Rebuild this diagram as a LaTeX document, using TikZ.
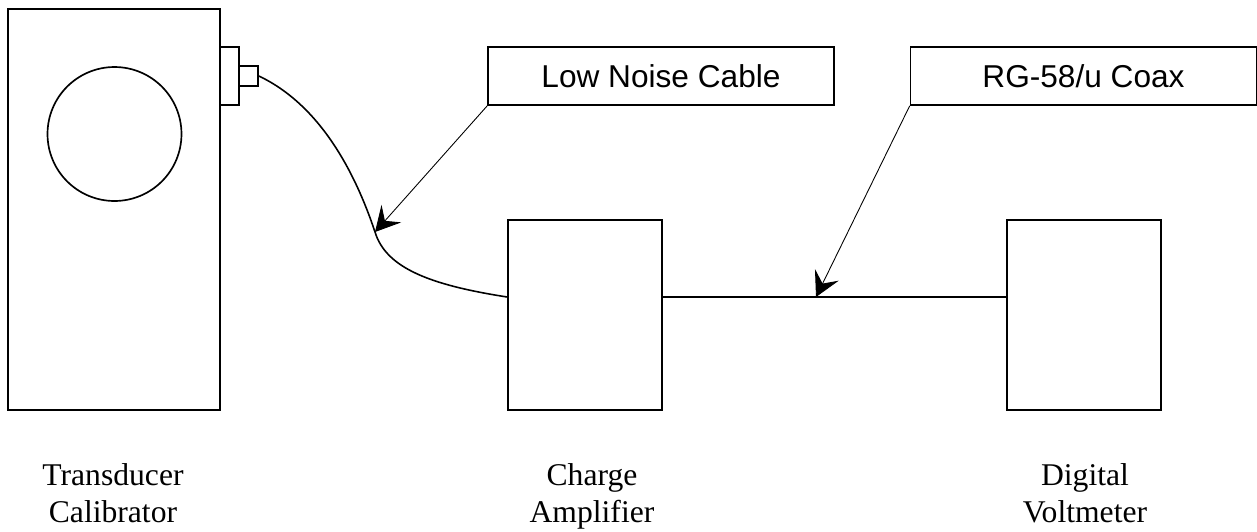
\documentclass[tikz,border=0pt]{standalone}
\usepackage{fontspec}
\setmainfont{Liberation Serif}
\newfontfamily\tagfont{Liberation Sans}
\usetikzlibrary{arrows.meta}

\begin{document}
\begin{tikzpicture}[x=0.02cm, y=-0.02cm,
	unit/.style={draw, line width=0.95pt, inner sep=0pt},
	tag/.style={unit, minimum width=6.92cm, minimum height=1.16cm, font=\tagfont\fontsize{18}{21}\selectfont},
	caption/.style={align=center, anchor=base, font=\fontsize{18}{21}\selectfont},
	pointer/.style={line width=0.5pt, -{Stealth[length=14pt, width=15pt, inset=5.5pt]}}]
	\useasboundingbox (0,0) rectangle (1257,531);
	% calibrator and its plug
	\node[unit, minimum width=4.24cm, minimum height=8.02cm] (calib) at (114,209.5) {};
	\node[unit, circle, minimum size=2.68cm] (disc) at (114.5,134) {};
	\node[unit, minimum width=0.38cm, minimum height=1.16cm] (plugbase) at (229.5,76) {};
	\node[unit, minimum width=0.38cm, minimum height=0.4cm] (plugtip) at (248.5,76) {};
	% amplifier and voltmeter
	\node[unit, minimum width=3.08cm, minimum height=3.8cm] (amp) at (585,315) {};
	\node[unit, minimum width=3.08cm, minimum height=3.8cm] (dvm) at (1084,315) {};
	% cable labels
	\node[tag] (lowtag) at (661,76) {Low Noise Cable};
	\node[tag] (coaxtag) at (1083.5,76) {RG-58/u Coax};
	% captions
	\node[caption] (calibcap) at (113,522) {Transducer\\Calibrator};
	\node[caption] (ampcap) at (592,522) {Charge\\Amplifier};
	\node[caption] (dvmcap) at (1085,522) {Digital\\Voltmeter};
	% cables
	\coordinate (ampin) at (amp.west |- 0,297);
	\coordinate (ampout) at (amp.east |- 0,297);
	\coordinate (dvmin) at (dvm.west |- 0,297);
	\coordinate (lowtip) at (375,232);
	\coordinate (coaxtip) at (816,297);
	\draw[line width=0.9pt] (plugtip.east) .. controls (320,105) and (355,172) .. (lowtip)
		.. controls (386,268) and (430,285) .. (ampin);
	\draw[line width=0.9pt] (ampout) -- (dvmin);
	\draw[pointer] (lowtag.south west) -- (lowtip);
	\draw[pointer] (coaxtag.south west) -- (coaxtip);
\end{tikzpicture}
\end{document}
